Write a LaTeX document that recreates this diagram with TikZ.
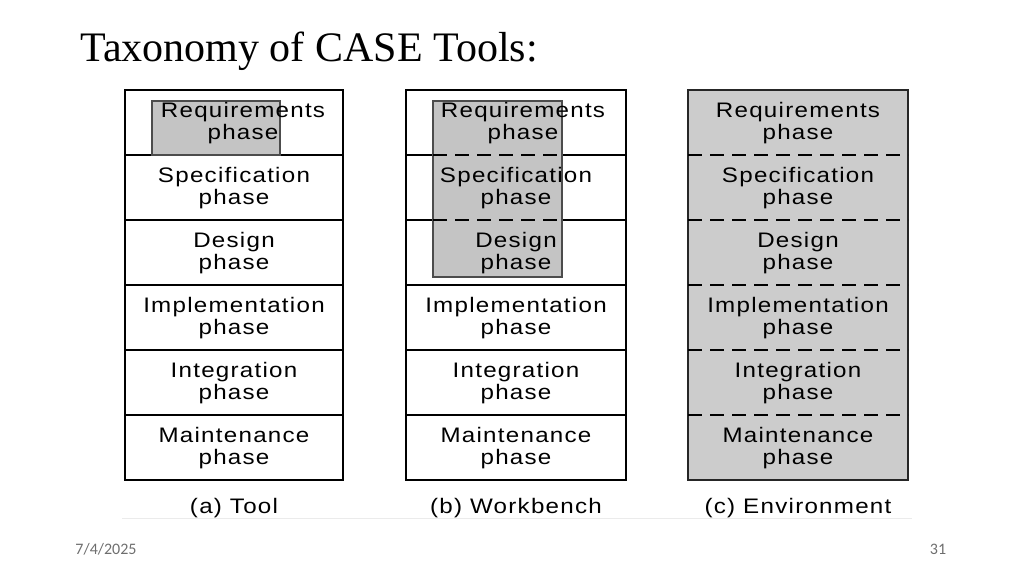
\documentclass[tikz,border=0pt]{standalone}
\usepackage{fontspec}
\setmainfont{Liberation Serif}
\newfontfamily\phasefont[LetterSpace=6,FakeStretch=1.15]{Liberation Sans}
\newfontfamily\footfont{Carlito}
\definecolor{toolgray}{RGB}{196,196,196}
\definecolor{envgray}{RGB}{204,204,204}
\definecolor{footgray}{RGB}{110,110,110}
\tikzset{
  phase/.style={
    font={\phasefont\fontsize{10.5}{11}\selectfont},
    align=center,
    inner sep=0pt
  },
  caption/.style={phase},
  title/.style={font={\fontsize{21}{25}\selectfont}, anchor=base west, inner sep=0pt},
  footer/.style={font={\footfont\fontsize{8}{10}\selectfont}, text=footgray, inner sep=0pt},
  frame/.style={line width=0.8pt, draw=black},
  env-frame/.style={line width=1.3pt, draw=black!85, fill=envgray},
  rowline/.style={line width=0.8pt},
  rowdash/.style={line width=0.8pt, dash pattern=on 7pt off 4pt},
  tool-box/.style={line width=1pt, draw=black!70, fill=toolgray}
}
% five lines between the six phases
\newcommand{\rowlines}[3]{
  \foreach \y in {155,220,285,350,415} {
    \draw[#3] (#1,\y) -- (#2,\y);
  }
}
% the six phase labels of one column
\newcommand{\phasecolumn}[3]{
  \node[phase] (#1-req)  at (#2+#3,123) {Requirements\\phase};
  \node[phase] (#1-spec) at (#2,188) {Specification\\phase};
  \node[phase] (#1-des)  at (#2,253) {Design\\phase};
  \node[phase] (#1-impl) at (#2,318) {Implementation\\phase};
  \node[phase] (#1-int)  at (#2,383) {Integration\\phase};
  \node[phase] (#1-mnt)  at (#2,448) {Maintenance\\phase};
}

\begin{document}
\begin{tikzpicture}[x=0.5pt,y=-0.5pt]
  \useasboundingbox (0,0) rectangle (1024,576);

  \node[title] (title) at (80,62) {Taxonomy of CASE Tools:};

  % --- (a) Tool ---
  \draw[frame] (125,90) rectangle (343,480);
  \rowlines{125}{343}{rowline}
  \filldraw[tool-box] (152,101) rectangle (280,155);

  % --- (b) Workbench ---
  \draw[frame] (406,90) rectangle (626,480);
  \rowlines{406}{626}{rowline}
  \filldraw[tool-box] (433,101) rectangle (562,277);
  \draw[rowdash] (433,155) -- (562,155);
  \draw[rowdash] (433,220) -- (562,220);

  % --- (c) Environment ---
  \filldraw[env-frame] (688,90) rectangle (908,480);
  \rowlines{688}{908}{rowdash}

  % labels
  \phasecolumn{a}{234}{9}
  \phasecolumn{b}{516}{7}
  \phasecolumn{c}{798}{0}

  \node[caption] (cap-a) at (234,508) {(a) Tool};
  \node[caption] (cap-b) at (516,508) {(b) Workbench};
  \node[caption] (cap-c) at (798,508) {(c) Environment};

  \draw[black!8] (122,518) -- (912,518);

  % footer
  \node[footer] (date) at (106,549) {7/4/2025};
  \node[footer] (page) at (938,549) {31};
\end{tikzpicture}
\end{document}
